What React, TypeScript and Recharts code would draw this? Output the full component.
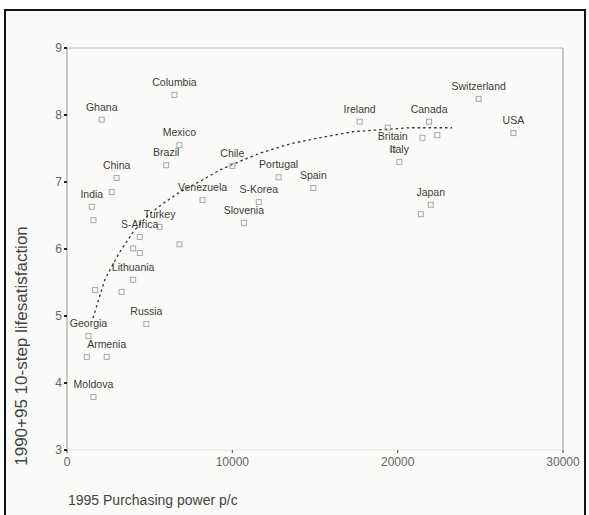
import { ScatterChart, Scatter, XAxis, YAxis, ReferenceLine } from 'recharts';

// labelled countries, PPP per capita 1995 and mean life satisfaction 1990-95
const countries = [
  'Columbia', 'Ghana', 'Mexico', 'Brazil', 'China', 'India', 'Chile', 'Venezuela',
  'Turkey', 'S-Africa', 'Lithuania', 'Russia', 'Georgia', 'Armenia', 'Moldova',
  'Portugal', 'Spain', 'S-Korea', 'Slovenia', 'Ireland', 'Britain', 'Italy',
  'Canada', 'Switzerland', 'USA', 'Japan',
];
const ppp = [
  6500, 2100, 6800, 6000, 3000, 1500, 10000, 8200,
  5600, 4400, 4000, 4800, 1300, 2400, 1600,
  12800, 14900, 11600, 10700, 17700, 19700, 20100,
  21900, 24900, 27000, 22000,
];
const satisfaction = [
  8.3, 7.93, 7.55, 7.25, 7.06, 6.63, 7.24, 6.73,
  6.33, 6.18, 5.54, 4.88, 4.7, 4.39, 3.79,
  7.07, 6.91, 6.7, 6.39, 7.9, 7.49, 7.3,
  7.9, 8.24, 7.73, 6.66,
];

// points without a label
const otherPpp = [2700, 1600, 6800, 4000, 4400, 3300, 1200, 19400, 22400, 21500, 21400, 1700];
const otherSatisfaction = [6.85, 6.43, 6.07, 6.01, 5.94, 5.36, 4.39, 7.81, 7.7, 7.66, 6.52, 5.39];

// fitted curve
const trendPpp = [
  1570, 1940, 2300, 3150, 4050, 4960, 5930, 6830, 8040, 9250,
  10470, 11680, 13490, 15480, 17300, 18930, 20750, 23290,
];
const trendSatisfaction = [
  4.97, 5.27, 5.55, 5.94, 6.27, 6.52, 6.7, 6.85, 7.01, 7.18,
  7.31, 7.43, 7.57, 7.67, 7.75, 7.78, 7.81, 7.81,
];

const xTicks = [0, 10000, 20000, 30000];
const yTicks = [3, 4, 5, 6, 7, 8, 9];

const labelled = countries.map((name, i) => ({ name, x: ppp[i], y: satisfaction[i] }));
const others = otherPpp.map((x, i) => ({ x, y: otherSatisfaction[i] }));
const trend = trendPpp.map((x, i) => ({ x, y: trendSatisfaction[i] }));

const font = '"Liberation Sans", Arial, sans-serif';

const Square = ({ cx, cy }: any) => (
  <rect x={cx - 2.5} y={cy - 2.5} width={5} height={5} fill="none" stroke="#a8a8a8" strokeWidth={1} />
);

const Country = ({ cx, cy, payload }: any) => (
  <g>
    <Square cx={cx} cy={cy} />
    <text x={cx} y={cy - 9} textAnchor="middle" fontSize={10.5} fontFamily={font} fill="#3a3a3a">
      {payload.name}
    </text>
  </g>
);

export default function App() {
  return (
    <div style={{ position: 'absolute', left: 0, top: 0, width: 589, height: 515, overflow: 'hidden', background: '#fff' }}>
      <div
        style={{
          position: 'absolute', left: 4, top: 9, width: 582, height: 530,
          border: '2px solid #111', boxSizing: 'border-box', background: '#fafaf8',
        }}
      />
      <div style={{ position: 'absolute', left: 0, top: 0 }}>
        <ScatterChart width={589} height={515} margin={{ top: 48, right: 26, left: 0, bottom: 0 }}>
          <XAxis
            type="number"
            dataKey="x"
            domain={[0, 30000]}
            ticks={xTicks}
            height={65}
            axisLine={{ stroke: '#e4e4e4' }}
            tickLine={{ stroke: '#444' }}
            tickSize={3}
            tickMargin={4}
            tick={{ fontSize: 12, fill: '#666', fontFamily: font }}
            label={{
              content: ({ viewBox }: any) => (
                <text x={viewBox.x + 1} y={viewBox.y + 55} fontSize={14} fontFamily={font} fill="#444">
                  1995 Purchasing power p/c
                </text>
              ),
            }}
          />
          <YAxis
            type="number"
            dataKey="y"
            domain={[3, 9]}
            ticks={yTicks}
            width={67}
            axisLine={{ stroke: '#999' }}
            tickLine={{ stroke: '#222', strokeWidth: 2 }}
            tickSize={3}
            tickMargin={2}
            tick={{ fontSize: 12, fill: '#666', fontFamily: font }}
            label={{
              content: () => (
                <text
                  x={27}
                  y={346}
                  transform="rotate(-90 27 346)"
                  textAnchor="middle"
                  fontSize={17}
                  fontFamily={font}
                  fill="#444"
                >
                  1990+95 10-step lifesatisfaction
                </text>
              ),
            }}
          />
          <ReferenceLine y={9} stroke="#bbb" />
          <ReferenceLine x={30000} stroke="#999" />
          <Scatter
            data={trend}
            isAnimationActive={false}
            line={{ stroke: '#333', strokeWidth: 1.3, strokeDasharray: '2.5 3' }}
            shape={() => <g />}
          />
          <Scatter data={others} isAnimationActive={false} shape={Square} />
          <Scatter data={labelled} isAnimationActive={false} shape={Country} />
        </ScatterChart>
      </div>
    </div>
  );
}
